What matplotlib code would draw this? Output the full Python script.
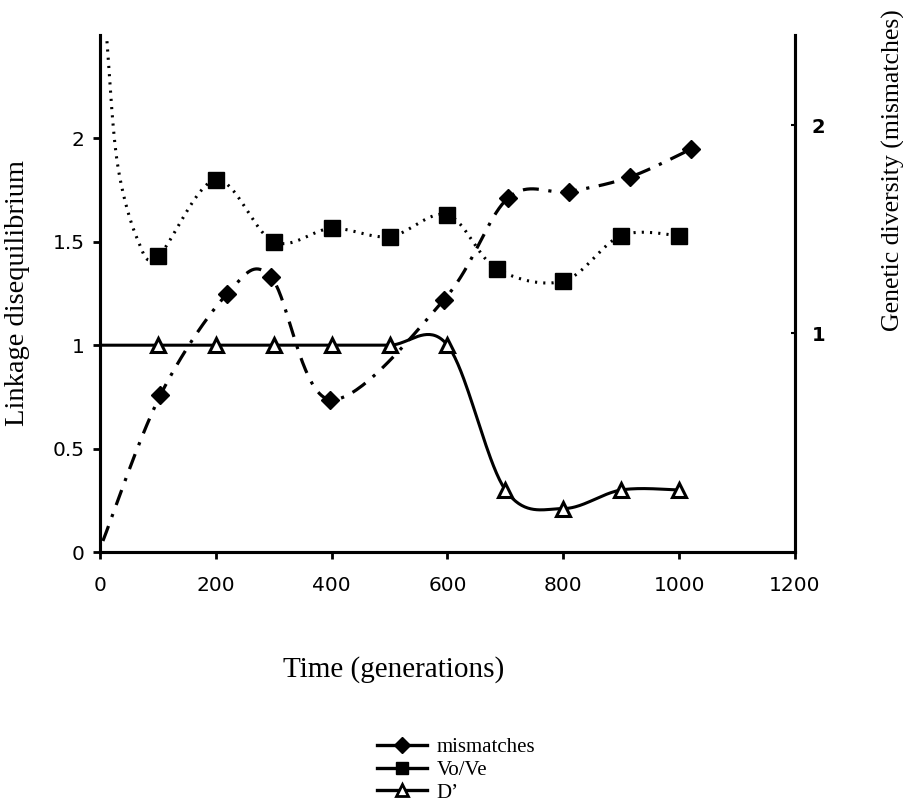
import numpy as np
import matplotlib
matplotlib.use("Agg")
import matplotlib.pyplot as plt
from matplotlib.lines import Line2D

# values (x in generations)
vo_x = [12, 30, 65, 100, 200, 300, 400, 500, 600, 685, 800, 900, 1000]
vo_y = [2.47, 1.88, 1.51, 1.43, 1.80, 1.50, 1.565, 1.525, 1.63, 1.37, 1.31, 1.53, 1.53]
vo_marked = [False, False, False] + [True] * 10

mm_x = [5, 104, 220, 295, 397, 594, 705, 809, 915, 1021]
mm_y = [0.0, 0.70, 1.19, 1.27, 0.68, 1.16, 1.65, 1.68, 1.75, 1.885]
mm_marked = [False] + [True] * 9

d_x = [0, 100, 200, 300, 400, 500, 600, 700, 800, 900, 1000]
d_y = [1.0, 1.0, 1.0, 1.0, 1.0, 1.0, 1.0, 0.30, 0.21, 0.30, 0.30]
d_marked = [False] + [True] * 10

x_ticks = [0, 200, 400, 600, 800, 1000, 1200]
left_ticks = [0, 0.5, 1, 1.5, 2]
left_tick_labels = ["0", "0.5", "1", "1.5", "2"]
right_ticks = [1, 2]


def smooth(x, y, n=40):
    # Excel-style smoothed line (Catmull-Rom as cubic Bezier)
    p = np.column_stack([x, y]).astype(float)
    out = [p[0]]
    t = np.linspace(0, 1, n)[1:, None]
    for i in range(len(p) - 1):
        p0 = p[i - 1] if i > 0 else p[i]
        p1, p2 = p[i], p[i + 1]
        p3 = p[i + 2] if i + 2 < len(p) else p[i + 1]
        c1 = p1 + (p2 - p0) / 6
        c2 = p2 - (p3 - p1) / 6
        seg = ((1 - t) ** 3) * p1 + 3 * ((1 - t) ** 2) * t * c1 \
            + 3 * (1 - t) * t ** 2 * c2 + t ** 3 * p2
        out.extend(seg)
    out = np.array(out)
    return out[:, 0], out[:, 1]


def marked(x, y, m):
    return [a for a, k in zip(x, m) if k], [b for b, k in zip(y, m) if k]


plt.rcParams["font.family"] = "DejaVu Sans"

fig = plt.figure(figsize=(9.04, 8.01), dpi=100)
ax = fig.add_axes([100 / 904, 1 - 552 / 801, 695 / 904, 517 / 801])
ax2 = ax.twinx()

# Vo/Ve - dotted
sx, sy = smooth(vo_x, vo_y)
ax.plot(sx, sy, color="black", lw=2.2, ls=(0, (0.7, 2.0)))
mx, my = marked(vo_x, vo_y, vo_marked)
ax.plot(mx, my, ls="none", marker="s", ms=11.5, color="black")

# D' - solid
sx, sy = smooth(d_x, d_y)
ax.plot(sx, sy, color="black", lw=2.2)
mx, my = marked(d_x, d_y, d_marked)
ax.plot(mx, my, ls="none", marker="^", ms=10, mfc="white", mec="black", mew=2.2)

# mismatches - dash-dot, on the right axis
sx, sy = smooth(mm_x, mm_y)
ax2.plot(sx, sy, color="black", lw=2.3, ls=(0, (5, 3, 1, 3)))
mx, my = marked(mm_x, mm_y, mm_marked)
ax2.plot(mx, my, ls="none", marker="D", ms=9, color="black")

ax.set_xlim(0, 1200)
ax.set_ylim(0, 2.5)
ax2.set_ylim(-0.053, 2.433)

ax.set_xticks(x_ticks)
ax.set_yticks(left_ticks)
ax.set_yticklabels(left_tick_labels)
ax2.set_yticks(right_ticks)

ax.tick_params(axis="both", direction="out", length=5, width=2, labelsize=14.5)
ax.tick_params(axis="x", pad=12)
ax.tick_params(axis="y", pad=6)
ax2.tick_params(axis="y", direction="in", length=3, width=1.5, labelsize=14, pad=12)
for lab in ax2.get_yticklabels():
    lab.set_fontweight("bold")

for a in (ax, ax2):
    a.spines["top"].set_visible(False)
    for s in ("left", "bottom", "right"):
        a.spines[s].set_linewidth(2.2)

ax.set_xlabel("Time (generations)", family="Liberation Serif", fontsize=21)
ax.xaxis.set_label_coords(0.423, -0.201)
ax.set_ylabel("Linkage disequilibrium", family="Liberation Serif", fontsize=20.5)
ax.yaxis.set_label_coords(-0.101, 0.5)
ax2.set_ylabel("Genetic diversity (mismatches)", family="Liberation Serif",
               fontsize=18.5, rotation=90)
ax2.yaxis.set_label_coords(1.125, 0.739)

handles = [
    Line2D([], [], color="black", lw=2.4, marker="D", ms=8),
    Line2D([], [], color="black", lw=2.4, marker="s", ms=9),
    Line2D([], [], color="black", lw=2.4, marker="^", ms=8, mfc="white", mew=2),
]
fig.legend(handles, ["mismatches", "Vo/Ve", "D\u2019"], loc="center left",
           bbox_to_anchor=(367 / 904, 1 - 770 / 801), frameon=False,
           prop={"family": "Liberation Serif", "size": 15}, borderpad=0,
           handlelength=2.4, handletextpad=0.45, labelspacing=0.15)

fig.savefig("out.png", dpi=100)
